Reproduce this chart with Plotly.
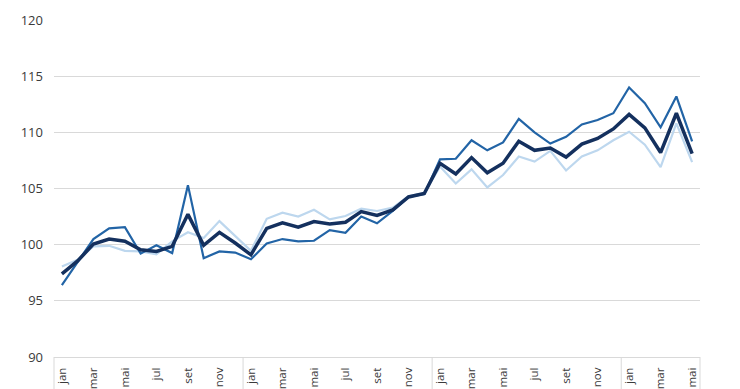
import plotly.graph_objects as go

month_names = ["jan", "fev", "mar", "abr", "mai", "jun", "jul", "ago", "set", "out", "nov", "dez"]
months = month_names * 3 + month_names[:5]

series_mid = [96.4, 98.45, 100.5, 101.45, 101.55, 99.2, 99.95, 99.25, 105.3, 98.8, 99.4, 99.3,
              98.7, 100.1, 100.5, 100.3, 100.35, 101.3, 101.05, 102.5, 101.9, 103.0, 104.25, 104.5,
              107.6, 107.65, 109.3, 108.4, 109.1, 111.2, 110.0, 109.0, 109.6, 110.7, 111.1, 111.7,
              114.0, 112.6, 110.45, 113.2, 109.2]
series_dark = [97.4, 98.55, 100.05, 100.5, 100.3, 99.55, 99.4, 99.85, 102.7, 99.95, 101.1, 100.15,
               99.1, 101.45, 101.95, 101.55, 102.05, 101.85, 102.0, 102.95, 102.6, 103.1, 104.25, 104.55,
               107.25, 106.3, 107.75, 106.4, 107.25, 109.2, 108.4, 108.6, 107.8, 108.95, 109.45, 110.3,
               111.6, 110.4, 108.2, 111.7, 108.1]
series_light = [98.05, 98.65, 99.85, 99.9, 99.45, 99.4, 99.15, 100.3, 101.1, 100.6, 102.1, 100.75,
                99.45, 102.3, 102.85, 102.5, 103.1, 102.25, 102.55, 103.2, 103.0, 103.3, 104.3, 104.6,
                106.95, 105.45, 106.7, 105.1, 106.2, 107.85, 107.4, 108.35, 106.6, 107.85, 108.4, 109.3,
                110.05, 108.9, 106.9, 110.8, 107.35]

y_ticks = [90, 95, 100, 105, 110, 115, 120]

n = len(months)
x = list(range(n))
tick_idx = x[::2]
tick_txt = [months[i] for i in tick_idx]

fig = go.Figure()
fig.add_trace(go.Scatter(x=x, y=series_light, mode="lines",
                         line=dict(color="#bdd7ee", width=2.2), showlegend=False))
fig.add_trace(go.Scatter(x=x, y=series_mid, mode="lines",
                         line=dict(color="#2264a6", width=2.2), showlegend=False))
fig.add_trace(go.Scatter(x=x, y=series_dark, mode="lines",
                         line=dict(color="#14305e", width=3.5), showlegend=False))

grid = "#d9d9d9"
# year separators below the axis (every 12 months) plus frame edges
bounds = [0] + [i for i in range(12, n, 12)] + [n]
for b in bounds:
    fig.add_shape(type="line", xref="x domain", yref="paper",
                  x0=b / n, x1=b / n, y0=0, y1=-0.12,
                  line=dict(color=grid, width=1))

fig.update_layout(
    width=732, height=381,
    margin=dict(l=46, r=40, t=12, b=32, autoexpand=False),
    paper_bgcolor="white", plot_bgcolor="white",
    font=dict(family="Open Sans, sans-serif", size=12, color="#3a3a3a"),
    xaxis=dict(range=[-0.5, n - 0.5], tickmode="array", tickvals=tick_idx, ticktext=tick_txt,
               tickangle=-90, showgrid=False, zeroline=False, showline=True, automargin=False,
               linecolor=grid, linewidth=1, ticks="", ticklabelstandoff=5,
               tickfont=dict(size=11.5, color="#3a3a3a")),
    yaxis=dict(range=[90, 120], tickmode="array", tickvals=y_ticks, automargin=False,
               showgrid=True, gridcolor=grid, gridwidth=1, zeroline=False,
               showline=False, ticks="", ticklabelstandoff=10,
               tickfont=dict(size=13, color="#3a3a3a")),
)

fig.write_html("out.html")
